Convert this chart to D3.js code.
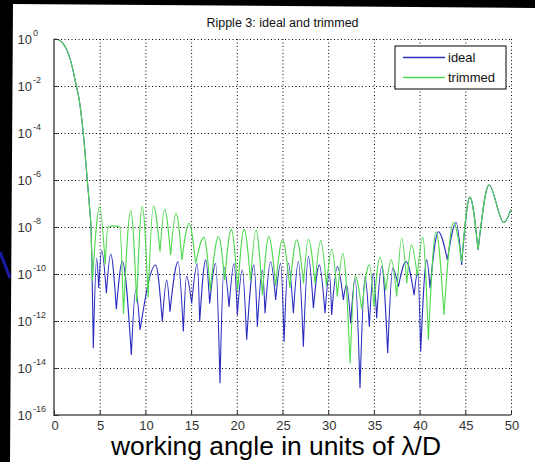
<!DOCTYPE html>
<html>
<head>
<meta charset="utf-8">
<script src="https://cdn.jsdelivr.net/npm/d3@7"></script>
<style>
  body { margin: 0; background: #000; }
  svg { display: block; font-family: Arial, "Liberation Sans", sans-serif; }
</style>
</head>
<body>
<div id="chart"></div>
<script>
// values: [angle in lambda/D, log10 of intensity]
const mainLobe = [[0, 0], [0.4, -0.02], [1.0, -0.2], [1.5, -0.55], [2.0, -1.2], [2.3, -1.74],
    [2.8, -2.7], [3.2, -4.0], [3.64, -6.0], [3.94, -7.4], [4.05, -8.0]];

const idealTail = [[4.3, -13.16], [4.67, -9.33], [4.89, -10.6], [5.22, -9.0], [5.73, -10.82], [6.2, -9.15],
    [6.82, -11.5], [7.48, -9.47], [8.46, -13.45], [8.94, -10.68], [9.41, -12.38], [11.12, -9.62],
    [11.85, -12.03], [12.33, -10.26], [12.69, -11.6], [13.57, -9.48], [14.15, -12.45], [14.5, -10.1],
    [15.06, -11.25], [15.68, -9.55], [15.94, -12.03], [16.6, -9.4], [17.03, -11.25], [17.69, -9.55],
    [18.16, -14.65], [18.6, -9.7], [19.15, -11.4], [19.7, -9.55], [20.06, -11.74], [20.6, -9.83],
    [21.08, -12.8], [21.88, -9.62], [22.25, -12.24], [22.8, -9.83], [23.09, -11.67], [23.7, -9.48],
    [24.25, -11.1], [24.8, -9.55], [25.17, -12.88], [25.64, -9.54], [26.19, -11.67], [26.74, -9.47],
    [27.28, -13.09], [27.83, -9.26], [28.38, -11.46], [29.03, -9.61], [29.65, -11.67], [30.13, -9.97],
    [30.38, -11.74], [31.0, -9.68], [31.66, -11.1], [32.0, -10.46], [32.46, -12.1], [32.94, -10.18],
    [33.48, -14.86], [34.03, -10.11], [34.5, -12.24], [34.94, -9.97], [35.3, -11.88], [35.85, -9.68],
    [36.51, -13.37], [37.06, -9.76], [37.68, -10.54], [38.52, -9.47], [39.4, -10.9], [39.8, -9.9],
    [40.12, -13.3], [40.78, -9.4], [41.14, -10.6], [42.05, -8.2], [43.04, -9.4], [44.0, -7.81],
    [44.6, -9.61]];

const trimmedTail = [[4.2, -10.3], [5.0, -7.14], [5.6, -9.6], [5.9, -8.0], [6.6, -7.95], [7.2, -8.0],
    [7.6, -11.7], [8.4, -7.3], [9.04, -11.2], [9.66, -7.13], [10.3, -11.0], [10.87, -7.1],
    [11.6, -9.05], [12.1, -7.25], [12.76, -9.2], [13.35, -7.42], [14.0, -9.4], [14.77, -7.84],
    [15.5, -9.55], [16.4, -8.44], [17.1, -10.7], [18.0, -8.41], [18.67, -10.26], [19.4, -8.1],
    [20.1, -10.7], [20.8, -8.1], [21.5, -10.3], [22.1, -8.13], [22.8, -10.9], [23.5, -8.41],
    [24.25, -10.5], [25.0, -8.55], [25.8, -10.6], [26.55, -8.55], [27.3, -10.4], [27.83, -8.52],
    [28.56, -10.4], [29.18, -8.58], [29.8, -10.5], [30.4, -8.95], [31.0, -10.96], [31.6, -9.12],
    [32.4, -13.8], [32.94, -10.08], [33.67, -11.5], [34.5, -9.6], [35.0, -11.4], [35.67, -9.29],
    [36.3, -10.7], [36.9, -9.4], [37.5, -10.96], [38.04, -8.48], [38.6, -10.4], [39.1, -8.76],
    [39.75, -10.1], [40.34, -8.44], [40.96, -12.8], [41.8, -8.2], [42.67, -11.74], [43.7, -7.81],
    [44.6, -9.5]];

// both curves coincide beyond ~45 lambda/D
const outerLobes = [[45.5, -6.73], [46.4, -8.98], [47.6, -6.21], [49.2, -7.81], [50, -7.25]];

const xTicks = [0, 5, 10, 15, 20, 25, 30, 35, 40, 45, 50];
const yExponents = [0, -2, -4, -6, -8, -10, -12, -14, -16];
const seriesNames = ["ideal", "trimmed"];
const seriesColors = ["#2a2cc0", "#4fd94f"];

const width = 535, height = 462;
const margin = { top: 39, right: 24, bottom: 47, left: 54 };

const svg = d3.select("#chart").append("svg")
    .attr("width", width)
    .attr("height", height)
    .style("background", "#000");

// white slide area, slightly tilted like the photo
svg.append("polygon")
    .attr("points", "13,4 535,8 535,462 10,462")
    .attr("fill", "#fff");

svg.append("line")
    .attr("x1", 0).attr("y1", 252)
    .attr("x2", 10).attr("y2", 278)
    .attr("stroke", "#1a1aa8")
    .attr("stroke-width", 3);

const x = d3.scaleLinear()
    .domain([0, 50])
    .range([margin.left, width - margin.right]);

const y = d3.scaleLog()
    .domain([1e-16, 1])
    .range([height - margin.bottom, margin.top]);

// dotted grid
const grid = svg.append("g")
    .attr("stroke", "#000")
    .attr("stroke-width", 1)
    .attr("stroke-dasharray", "1,2.5");

xTicks.filter(t => t > 0).forEach(t => {
    grid.append("line")
        .attr("x1", x(t) + 0.5).attr("x2", x(t) + 0.5)
        .attr("y1", y(1)).attr("y2", y(1e-16));
});
yExponents.filter(e => e > -16).forEach(e => {
    grid.append("line")
        .attr("x1", x(0)).attr("x2", x(50))
        .attr("y1", Math.round(y(Math.pow(10, e))) + 0.5)
        .attr("y2", Math.round(y(Math.pow(10, e))) + 0.5);
});

// curves: each lobe is drawn null-to-null so the nulls stay sharp
const line = d3.line()
    .x(d => x(d[0]))
    .y(d => y(Math.pow(10, d[1])))
    .curve(d3.curveMonotoneX);

function lobes(s) {
    const out = [];
    let cur = [s[0]];
    for (let i = 1; i < s.length; i++) {
        cur.push(s[i]);
        const isNull = i < s.length - 1 &&
            s[i - 1][1] - s[i][1] > 0.6 && s[i + 1][1] - s[i][1] > 0.6;
        if (isNull) {
            out.push(cur);
            cur = [s[i]];
        }
    }
    out.push(cur);
    return out;
}

const series = [
    mainLobe.concat(idealTail, outerLobes),
    mainLobe.concat(trimmedTail, outerLobes)
];

series.forEach((s, i) => {
    const d = lobes(s).map(l => line(l)).join("");
    svg.append("path")
        .attr("fill", "none")
        .attr("stroke", seriesColors[i])
        .attr("stroke-width", 1.1)
        .attr("stroke-linejoin", "round")
        .attr("d", d);
});

// axes (left and bottom only)
const axisColor = "#555";
svg.append("line")
    .attr("x1", x(0)).attr("x2", x(0))
    .attr("y1", y(1)).attr("y2", y(1e-16) + 1)
    .attr("stroke", axisColor).attr("stroke-width", 1.6);
svg.append("line")
    .attr("x1", x(0)).attr("x2", x(50))
    .attr("y1", y(1e-16)).attr("y2", y(1e-16))
    .attr("stroke", axisColor).attr("stroke-width", 1.6);

xTicks.forEach(t => {
    svg.append("line")
        .attr("x1", x(t) + 0.5).attr("x2", x(t) + 0.5)
        .attr("y1", y(1e-16)).attr("y2", y(1e-16) - 5)
        .attr("stroke", "#333");
    svg.append("text")
        .attr("x", x(t) + 1)
        .attr("y", 430)
        .attr("text-anchor", "middle")
        .attr("font-size", "13px")
        .attr("fill", "#333")
        .text(t);
});

yExponents.forEach(e => {
    const yy = y(Math.pow(10, e));
    svg.append("line")
        .attr("x1", x(0)).attr("x2", x(0) + 5)
        .attr("y1", Math.round(yy) + 0.5).attr("y2", Math.round(yy) + 0.5)
        .attr("stroke", "#333");
    svg.append("text")
        .attr("x", 32)
        .attr("y", yy + 5)
        .attr("text-anchor", "end")
        .attr("font-size", "13px")
        .attr("fill", "#333")
        .text("10");
    svg.append("text")
        .attr("x", 33)
        .attr("y", yy - 3)
        .attr("font-size", "9px")
        .attr("fill", "#333")
        .text(e === 0 ? "0" : e);
});

// title
svg.append("text")
    .attr("x", (x(0) + x(50)) / 2)
    .attr("y", 27)
    .attr("text-anchor", "middle")
    .attr("font-size", "12.5px")
    .attr("fill", "#111")
    .text("Ripple 3: ideal and trimmed");

// x label
svg.append("text")
    .attr("x", 276)
    .attr("y", 455)
    .attr("text-anchor", "middle")
    .attr("font-size", "25px")
    .attr("textLength", 330)
    .attr("lengthAdjust", "spacingAndGlyphs")
    .attr("fill", "#000")
    .text("working angle in units of λ/D");

// legend
const legend = svg.append("g").attr("transform", "translate(395,46)");
legend.append("rect")
    .attr("width", 111).attr("height", 43)
    .attr("fill", "#fff")
    .attr("stroke", "#000")
    .attr("stroke-width", 1);
seriesNames.forEach((name, i) => {
    legend.append("line")
        .attr("x1", 8).attr("x2", 50)
        .attr("y1", 11.5 + i * 20).attr("y2", 11.5 + i * 20)
        .attr("stroke", seriesColors[i])
        .attr("stroke-width", 1.3);
    legend.append("text")
        .attr("x", 53)
        .attr("y", 16 + i * 20)
        .attr("font-size", "13px")
        .attr("fill", "#111")
        .text(name);
});
</script>
</body>
</html>
